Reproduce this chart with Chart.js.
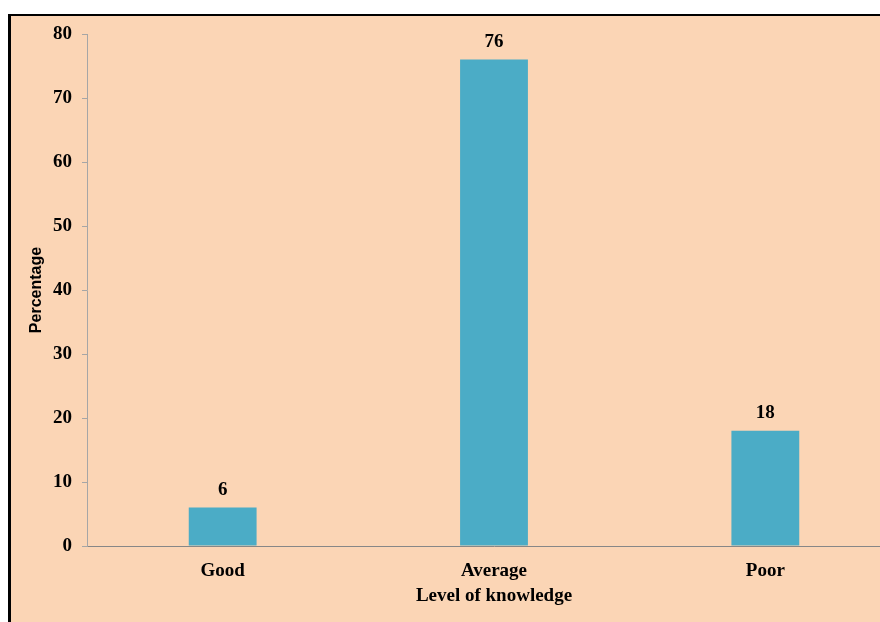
<!DOCTYPE html>
<html>
<head>
<meta charset="utf-8">
<script src="https://cdn.jsdelivr.net/npm/chart.js@4/dist/chart.umd.min.js"></script>
<style>
  html, body { margin: 0; padding: 0; background: #ffffff; overflow: hidden; width: 880px; height: 622px; }
  #frame {
    position: absolute; left: 8px; top: 14px; width: 900px; height: 640px;
    background: #FBD5B5; border-left: 3px solid #000; border-top: 2px solid #000;
  }
  #wrap { position: absolute; left: 0; top: 0; }
</style>
</head>
<body>
<div id="frame"></div>
<div id="wrap"><canvas id="chart" width="901" height="622"></canvas></div>
<script>
// Knowledge level distribution (percent of respondents)
const categories = ['Good', 'Average', 'Poor'];
const percentages = [6, 76, 18];
const yTicks = [0, 10, 20, 30, 40, 50, 60, 70, 80];

const serifBold = { family: '"Liberation Serif", "Times New Roman", serif', weight: 'bold', size: 19 };

// Writes each bar's value above it
const valueLabels = {
  id: 'valueLabels',
  afterDatasetsDraw(chart) {
    const ctx = chart.ctx;
    const meta = chart.getDatasetMeta(0);
    ctx.save();
    ctx.font = 'bold 19px "Liberation Serif", "Times New Roman", serif';
    ctx.fillStyle = '#000';
    ctx.textAlign = 'center';
    ctx.textBaseline = 'middle';
    meta.data.forEach((bar, i) => {
      ctx.fillText(String(chart.data.datasets[0].data[i]), bar.x, bar.y - 18);
    });
    ctx.restore();
  }
};

new Chart(document.getElementById('chart'), {
  type: 'bar',
  data: {
    labels: categories,
    datasets: [{
      data: percentages,
      backgroundColor: '#4BACC6',
      borderWidth: 0,
      barPercentage: 1,
      categoryPercentage: 0.25
    }]
  },
  options: {
    responsive: false,
    animation: false,
    layout: { padding: { left: 0, top: 34, right: 0, bottom: 0 } },
    plugins: { legend: { display: false }, tooltip: { enabled: false } },
    scales: {
      x: {
        afterFit(scale) { scale.height = 76; },
        grid: { display: false, drawTicks: false },
        border: { display: true, color: '#878787', width: 1 },
        ticks: { color: '#000', font: serifBold, padding: 14 },
        title: {
          display: true, text: 'Level of knowledge', color: '#000',
          font: serifBold, padding: { top: 0, bottom: 15 }
        }
      },
      y: {
        min: 0, max: 80,
        afterFit(scale) { scale.width = 87; },
        afterBuildTicks(scale) { scale.ticks = yTicks.map(v => ({ value: v })); },
        grid: { drawOnChartArea: false, drawTicks: true, tickLength: 5, color: '#A6A6A6' },
        border: { display: true, color: '#A6A6A6', width: 1 },
        ticks: { color: '#000', font: serifBold, padding: 10 },
        title: {
          display: true, text: 'Percentage', color: '#000',
          font: { family: '"Liberation Sans", Arial, sans-serif', weight: 'bold', size: 16 },
          padding: { top: 27, bottom: 0 }
        }
      }
    }
  },
  plugins: [valueLabels]
});
</script>
</body>
</html>
